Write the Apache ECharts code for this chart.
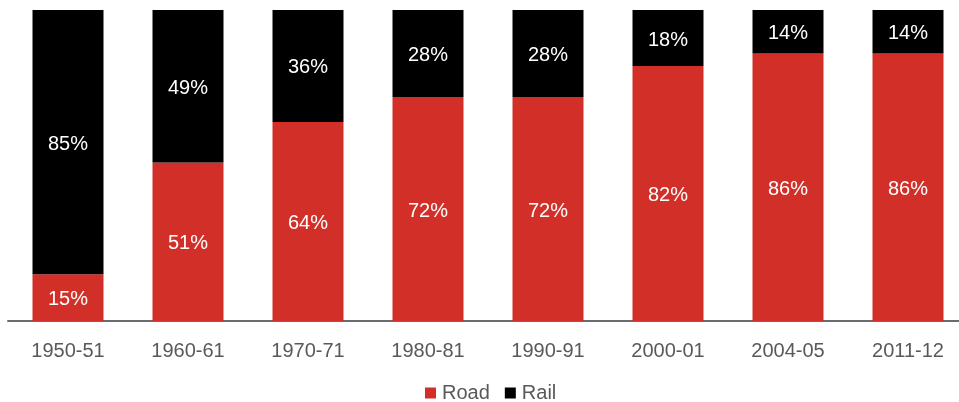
<!DOCTYPE html>
<html><head><meta charset="utf-8">
<script src="https://cdn.jsdelivr.net/npm/echarts@6/dist/echarts.min.js"></script>
<style>html,body{margin:0;padding:0;background:#fff;overflow:hidden}#c{width:968px;height:402px}</style>
</head><body><div id="c"></div>
<script>
const categories = ['1950-51','1960-61','1970-71','1980-81','1990-91','2000-01','2004-05','2011-12'];
const road = [15,51,64,72,72,82,86,86];
const rail = [85,49,36,28,28,18,14,14];
const chart = echarts.init(document.getElementById('c'), null, {renderer:'canvas'});
const lbl = {show:true, position:'inside', offset:[0,2], color:'#fff', fontFamily:'Liberation Sans, Arial', fontSize:20, formatter: p => p.value + '%'};
chart.setOption({
  animation:false,
  grid:{left:8, top:10, right:0, height:311, containLabel:false},
  legend:{top:383, left:425, padding:0, itemWidth:11, itemHeight:11, itemGap:15, icon:'rect',
    textStyle:{color:'#595959', fontSize:20, lineHeight:20, fontFamily:'Liberation Sans, Arial', padding:[0,0,0,1]},
    data:['Road','Rail']},
  xAxis:{type:'category', data:categories,
    axisLine:{lineStyle:{color:'#6b6b6b', width:2}}, axisTick:{show:false},
    axisLabel:{color:'#595959', fontSize:20, fontFamily:'Liberation Sans, Arial', margin:20}},
  yAxis:{type:'value', min:0, max:100, show:false},
  series:[
    {name:'Road', type:'bar', stack:'s', data:road, barWidth:71, itemStyle:{color:'#D22F28'}, label:lbl},
    {name:'Rail', type:'bar', stack:'s', data:rail, barWidth:71, itemStyle:{color:'#000000'}, label:lbl}
  ]
});
</script></body></html>
